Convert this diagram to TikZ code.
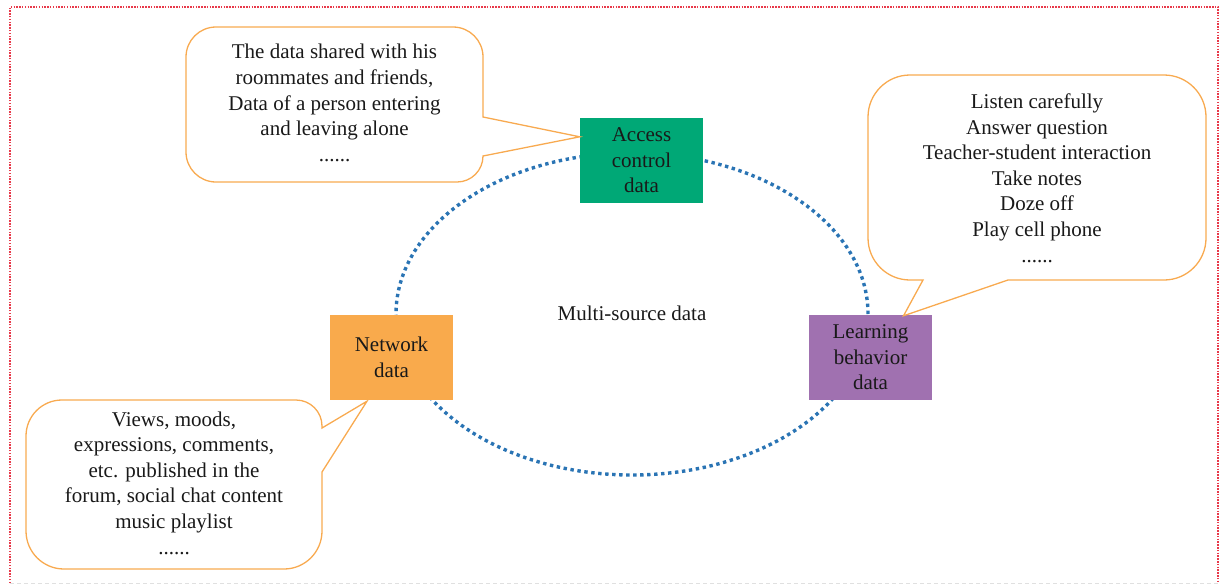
\documentclass[tikz,border=0pt]{standalone}
\usepackage{fontspec}
\setmainfont{Liberation Serif}
\begin{document}
\begin{tikzpicture}[x=1pt,y=1pt,
  every node/.style={font=\fontsize{21}{25.6}\selectfont, text=black!90},
  databox/.style={rectangle, minimum width=123pt, minimum height=85pt, inner sep=0pt, align=center},
  bubble/.style={draw=calloutorange, line width=1.3pt, line join=miter},
  bubbletext/.style={align=center, inner sep=0pt},
  ring/.style={draw=ringblue, line width=3.4pt, dash pattern=on 3.4pt off 3.6pt},
]
\definecolor{calloutorange}{HTML}{F8AA50}
\definecolor{ringblue}{HTML}{2A74B4}
\definecolor{accessgreen}{HTML}{00A876}
\definecolor{netorange}{HTML}{F9AA4C}
\definecolor{learnpurple}{HTML}{A071B0}
\definecolor{framered}{HTML}{E8394A}

% page frame
\useasboundingbox (0,0) rectangle (1220,-584);
\draw[framered, line width=1.5pt, dash pattern=on 1.5pt off 1.3pt]
  (10,-583) -- (10,-7) -- (1218,-7) -- (1218,-583);
\draw[black!12, line width=0.8pt, dash pattern=on 4pt off 3pt] (10,-583) -- (1218,-583);

% dotted ring of the multi-source data
\draw[ring] (632,-314) ellipse [x radius=236, y radius=161];
\node (center) at (632,-313) {Multi-source data};

% the three data sources
\node[databox, fill=accessgreen] (ac) at (641.5,-160.5) {Access\\control\\data};
\node[databox, fill=netorange] (nd) at (391.5,-357.5) {Network\\data};
\node[databox, fill=learnpurple] (lb) at (870.5,-357.5) {Learning\\behavior\\data};

% pointer tips on the boxes
\coordinate (tipA) at ([yshift=-19pt]ac.north west);
\coordinate (tipL) at ([xshift=33pt,yshift=-1pt]lb.north);
\coordinate (tipN) at ([xshift=-24.5pt,yshift=-1pt]nd.south);

% callout for the access control data
\draw[bubble] (216,-27) -- (453,-27) arc[start angle=90, end angle=0, radius=30]
  -- (483,-117) -- (tipA) -- (483,-156) arc[start angle=0, end angle=-90, radius=26]
  -- (216,-182) arc[start angle=270, end angle=180, radius=30]
  -- (186,-57) arc[start angle=180, end angle=90, radius=30] -- cycle;
\node[bubbletext] (ta) at (334.5,-103) {The data shared with his\\roommates and friends,\\Data of a person entering\\and leaving alone\\......};

% callout for the learning behavior data
\draw[bubble] (910,-75) -- (1164,-75) arc[start angle=90, end angle=0, radius=42]
  -- (1206,-238) arc[start angle=0, end angle=-90, radius=42]
  -- (1008,-280) -- (tipL) -- (923,-280) -- (910,-280)
  arc[start angle=270, end angle=180, radius=42]
  -- (868,-117) arc[start angle=180, end angle=90, radius=42] -- cycle;
\node[bubbletext] (tl) at (1037,-178) {Listen carefully\\Answer question\\Teacher-student interaction\\Take notes\\Doze off\\Play cell phone\\......};

% callout for the network data
\draw[bubble] (62,-400) -- (296,-400) arc[start angle=90, end angle=0, radius=26]
  -- (322,-428) -- (tipN) -- (322,-472) -- (322,-531)
  arc[start angle=0, end angle=-90, radius=38]
  -- (64,-569) arc[start angle=270, end angle=180, radius=38]
  -- (26,-436) arc[start angle=180, end angle=90, radius=36] -- cycle;
\node[bubbletext] (tn) at (174,-483) {Views, moods,\\expressions, comments,\\etc. published in the\\forum, social chat content\\music playlist\\......};
\end{tikzpicture}
\end{document}
